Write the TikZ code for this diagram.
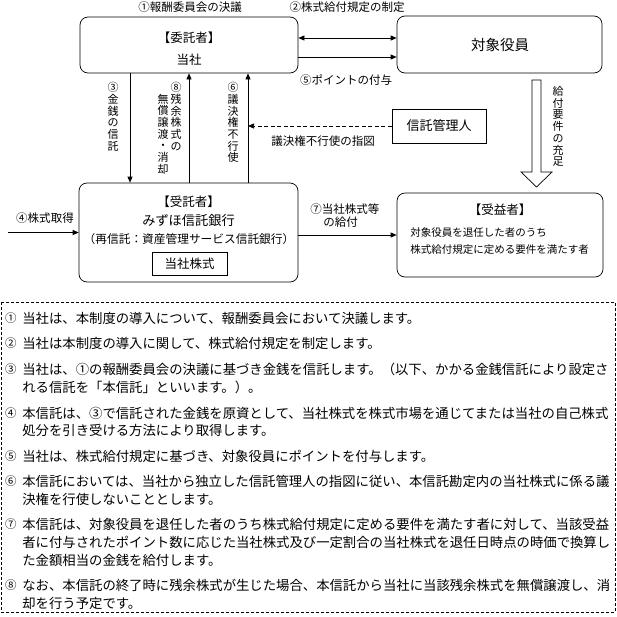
\documentclass[tikz,border=0pt]{standalone}
\usepackage{fontspec}
\setmainfont{Noto Sans CJK JP}
\usetikzlibrary{arrows.meta}
\begin{document}
\begin{tikzpicture}[x=1pt,y=-1pt, line width=0.7pt,
  >={Triangle[length=6pt,width=5pt]},
  box/.style={draw, rounded corners=8pt, inner sep=0},
  sqbox/.style={draw, inner sep=0},
  lbl/.style={inner sep=0, font=\fontsize{11.5}{12}\selectfont},
  vlbl/.style={inner sep=0, anchor=north, align=center, font=\fontsize{11}{11.7}\selectfont},
  btxt/.style={inner sep=0, font=\fontsize{12.5}{14}\selectfont},
  note/.style={inner sep=0, anchor=west, font=\fontsize{13.36}{16}\selectfont},
  num/.style={inner sep=0, font=\fontsize{11.5}{16}\selectfont}]
\useasboundingbox (0,0) rectangle (617,616);

% ---- boxes
\node[box, minimum width=218pt, minimum height=56pt] (A) at (189,45) {};
\node[box, minimum width=205pt, minimum height=57pt] (B) at (499.5,44.5) {};
\node[box, minimum width=219pt, minimum height=99pt] (C) at (188.5,232.5) {};
\node[box, minimum width=206pt, minimum height=84pt] (D) at (500,235) {};
\node[sqbox, minimum width=94pt, minimum height=34pt] (M) at (439,126) {};
\node[sqbox, minimum width=75pt, minimum height=23pt] (S) at (189.5,263.5) {};

% ---- box texts
\node[btxt] (a1) at (189,38) {【委託者】};
\node[btxt] (a2) at (189,60) {当社};
\node[btxt, font=\fontsize{14.5}{16}\selectfont] (b1) at (500,45) {対象役員};
\node[btxt, font=\fontsize{13}{16}\selectfont] (m1) at (439,126) {信託管理人};
\node[btxt] (c1) at (188.5,202) {【受託者】};
\node[btxt, font=\fontsize{13.2}{16}\selectfont] (c2) at (188.5,220) {みずほ信託銀行};
\node[btxt, font=\fontsize{11.7}{14}\selectfont] (c3) at (189,239) {（再信託：資産管理サービス信託銀行）};
\node[btxt, font=\fontsize{12.5}{14}\selectfont] (s1) at (189.5,263.5) {当社株式};
\node[btxt] (d1) at (500,210) {【受益者】};
\node[inner sep=0, anchor=west, font=\fontsize{10.5}{12}\selectfont] (d2) at (410,232) {対象役員を退任した者のうち};
\node[inner sep=0, anchor=west, font=\fontsize{10.5}{12}\selectfont] (d3) at (410,250) {株式給付規定に定める要件を満たす者};

% ---- helper coordinates
\coordinate (y38) at (0,38);
\coordinate (y57) at (0,57);
\coordinate (x130) at (130,0);
\coordinate (x189) at (189,0);
\coordinate (x248) at (248,0);
\coordinate (in4) at (8,232.5);

% ---- connectors
\draw[<->] (A.east|-y38) -- (B.west|-y38);
\draw[->] (A.east|-y57) -- (B.west|-y57);
\draw[->] (A.south-|x130) -- (C.north-|x130);
\draw[->] (C.north-|x189) -- (A.south-|x189);
\draw[->] (C.north-|x248) -- (A.south-|x248);
\draw[->, dash pattern=on 4pt off 2.5pt] (M.west) -- (M.west-|x248);
\draw[->] (in4) -- (C.west);
\draw[->] (C.east|-D.west) -- (D.west);

% ---- hollow arrow
\draw (532,80) -- (541,80) -- (541,172) -- (552,172) -- (536.5,187)
  -- (521,172) -- (532,172) -- cycle;

% ---- labels
\node[lbl] (l1) at (190,7) {①報酬委員会の決議};
\node[lbl] (l2) at (347,7) {②株式給付規定の制定};
\node[lbl] (l5) at (346,80) {⑤ポイントの付与};
\node[lbl] (l6b) at (323,141) {議決権不行使の指図};
\node[lbl] (l4) at (45,218) {④株式取得};
\node[lbl, anchor=west] (l7a) at (310,209) {⑦当社株式等};
\node[lbl, anchor=west] (l7b) at (323,222) {の給付};
\node[vlbl] (v3) at (113,82) {③\\金\\銭\\の\\信\\託};
\node[vlbl] (v8a) at (176,82) {⑧\\残\\余\\株\\式\\の};
\node[vlbl] (v8b) at (163,93.5) {無\\償\\譲\\渡\\・\\消\\却};
\node[vlbl] (v6) at (233,82) {⑥\\議\\決\\権\\不\\行\\使};
\node[vlbl] (vk) at (558,86) {給\\付\\要\\件\\の\\充\\足};

% ---- notes frame
\draw[dash pattern=on 3pt off 2pt, line width=0.6pt] (1,302) rectangle (615,612);

\node[num] (n1) at (11,318.5) {①};
\node[note] (t1) at (22,318.5) {当社は、本制度の導入について、報酬委員会において決議します。};
\node[num] (n2) at (11,343) {②};
\node[note] (t2) at (22,343) {当社は本制度の導入に関して、株式給付規定を制定します。};
\node[num] (n3) at (11,369) {③};
\node[note] (t3a) at (22,369) {当社は、①の報酬委員会の決議に基づき金銭を信託します。（以下、かかる金銭信託により設定さ};
\node[note] (t3b) at (22,387) {れる信託を「本信託」といいます。）。};
\node[num] (n4) at (11,413) {④};
\node[note] (t4a) at (22,413) {本信託は、③で信託された金銭を原資として、当社株式を株式市場を通じてまたは当社の自己株式};
\node[note] (t4b) at (22,430.5) {処分を引き受ける方法により取得します。};
\node[num] (n5) at (11,456) {⑤};
\node[note] (t5) at (22,456) {当社は、株式給付規定に基づき、対象役員にポイントを付与します。};
\node[num] (n6) at (11,481) {⑥};
\node[note] (t6a) at (22,481) {本信託においては、当社から独立した信託管理人の指図に従い、本信託勘定内の当社株式に係る議};
\node[note] (t6b) at (22,499) {決権を行使しないこととします。};
\node[num] (n7) at (11,524.5) {⑦};
\node[note] (t7a) at (22,524.5) {本信託は、対象役員を退任した者のうち株式給付規定に定める要件を満たす者に対して、当該受益};
\node[note] (t7b) at (22,542) {者に付与されたポイント数に応じた当社株式及び一定割合の当社株式を退任日時点の時価で換算し};
\node[note] (t7c) at (22,560) {た金額相当の金銭を給付します。};
\node[num] (n8) at (11,585.5) {⑧};
\node[note] (t8a) at (22,585.5) {なお、本信託の終了時に残余株式が生じた場合、本信託から当社に当該残余株式を無償譲渡し、消};
\node[note] (t8b) at (22,603) {却を行う予定です。};
\end{tikzpicture}
\end{document}
